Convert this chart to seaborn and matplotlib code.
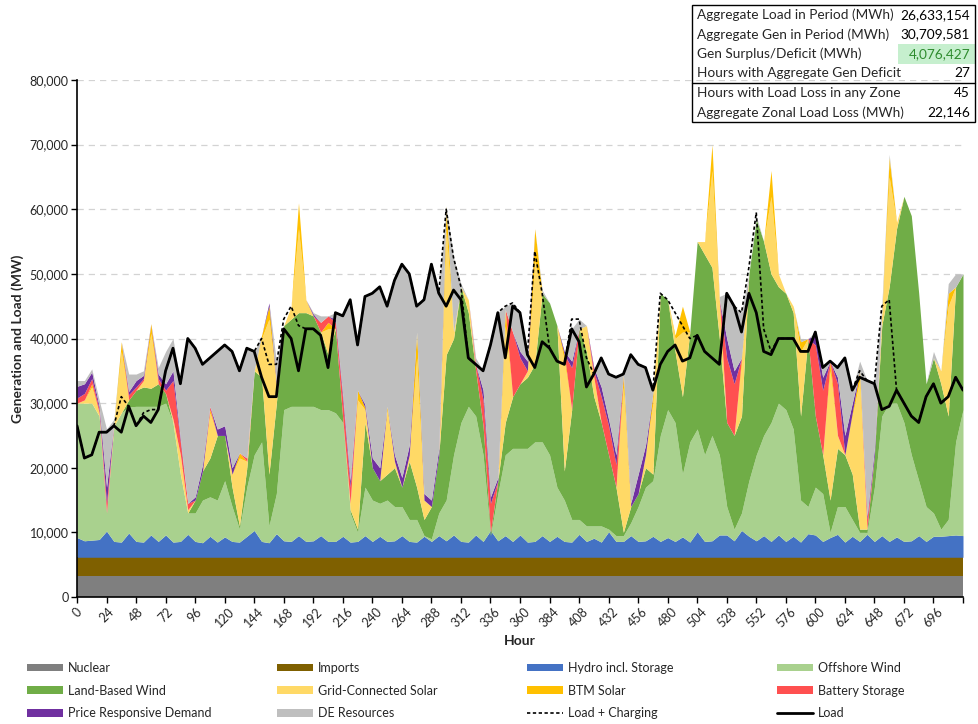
import numpy as np
import pandas as pd
import matplotlib
matplotlib.use("Agg")
import matplotlib.pyplot as plt
import seaborn as sns
from matplotlib.patches import Patch, Rectangle
from matplotlib.lines import Line2D
from matplotlib.ticker import FuncFormatter, MultipleLocator

# hourly samples every 6 h, values in thousands of MW
hours = np.arange(0, 721, 6)

NUCLEAR_K = 3.3
IMPORTS_TOP_K = 6.15

hydro_top = [9.2, 8.7, 8.8, 8.9, 10.2, 8.6, 8.5, 9.9, 8.6, 8.5, 9.6, 8.6,
             9.6, 8.5, 8.6, 9.7, 8.6, 8.4, 9.4, 8.5, 9.3, 8.6, 8.5, 9.4,
             10.3, 8.6, 8.4, 9.8, 8.7, 8.6, 9.5, 8.6, 8.7, 9.5, 8.6, 8.6,
             9.4, 8.5, 8.6, 9.5, 8.6, 9.4, 8.6, 8.7, 9.5, 8.6, 8.5, 9.4,
             8.6, 9.5, 8.7, 9.6, 8.6, 8.5, 9.6, 8.6, 10.3, 8.7, 9.5, 8.6,
             9.6, 8.5, 8.6, 9.5, 8.6, 9.4, 8.6, 8.5, 9.7, 8.6, 9.1, 8.5,
             10.1, 8.6, 8.6, 9.5, 8.6, 8.7, 9.4, 8.6, 9.2, 8.6, 9.3, 8.5,
             10.1, 8.6, 8.7, 9.6, 9.6, 8.7, 10.3, 9.4, 8.7, 9.5, 8.6, 9.6,
             8.6, 9.4, 8.5, 9.8, 9.6, 8.6, 9.2, 9.7, 8.5, 9.4, 8.6, 9.7,
             8.6, 9.5, 8.6, 9.3, 8.6, 8.7, 9.5, 8.6, 9.4, 9.4, 9.5, 9.6, 9.5]

offshore_top = [30, 30, 30, 28, 13, 26.5, 28.5, 29.4, 29.5, 29.5, 29.5, 29.5,
                30, 27, 19, 13, 13, 15, 15.5, 15, 18, 14, 10.5, 17,
                22, 24, 11, 16, 29, 29.5, 29.5, 29.5, 29.5, 29, 29, 28.5,
                27, 13, 10, 17, 15, 14.5, 15, 14, 14, 12, 12, 9.5,
                9, 13, 15, 22, 27, 29.5, 28, 22, 9.5, 16, 22, 23,
                23, 23, 24, 24, 22, 17, 15, 12, 12, 11, 11, 11,
                10.5, 9.5, 9.5, 11.5, 14, 17, 18, 25, 29, 27, 19, 24,
                26, 22, 25, 22, 14, 10.5, 13, 18, 22, 25, 27, 30,
                29, 26, 15, 14, 17, 16, 10, 14, 14, 12, 10, 10,
                17, 28, 30, 30, 27, 22, 18, 14, 13, 10.5, 12, 24, 29]

land_top = [30, 30, 30, 28, 13, 26.5, 28.5, 30.5, 32, 32.5, 32.3, 33,
            31.5, 27, 19, 13, 15, 19.5, 21.5, 25, 25, 17, 11, 20,
            35, 34, 19, 30, 42, 43, 44, 44, 43.5, 41, 37.5, 41.5,
            27.5, 13.5, 10.5, 27, 20, 18, 19, 20, 17, 21, 17, 12,
            14, 22, 37.5, 40, 48, 44, 35, 26.5, 10, 18, 27, 31,
            33, 34, 36, 47, 45.5, 42, 19.5, 29, 41.5, 38, 31, 27,
            22, 17, 10, 14, 16, 20, 19, 47, 46, 38, 31, 41,
            55, 53, 51, 40, 27, 25, 28, 50, 58.5, 55, 50, 48,
            47, 44, 28, 40, 28, 22, 15, 23, 22, 19, 10.5, 10.5,
            22, 42, 48, 57, 62, 59, 47, 33, 37, 33, 28, 48, 50]

grid_solar = [0, 0.5, 2.5, 0.5, 0, 0.5, 9.5, 0, 0, 1, 8.5, 0,
              0, 0.5, 3, 0.5, 0, 0, 7, 0, 0, 2, 10.5, 1,
              0, 6, 24, 3, 0, 2, 13, 2, 0, 0, 4, 0,
              0, 1, 20, 2, 0, 0, 10, 1, 0, 1, 20, 3,
              0, 0, 19.5, 1, 0, 2, 0, 0, 0, 0, 15, 0,
              0, 1, 16, 0, 0, 0, 17, 0, 0, 4, 3, 0,
              0, 0, 22.5, 0, 0, 2, 11, 0, 0, 2, 10, 0,
              0, 2, 15, 6, 0, 0, 8, 0, 0, 0, 12, 2,
              0, 1, 10, 0, 0, 0, 20, 2, 0, 9, 23, 0,
              0, 2, 17, 1, 0, 0, 0, 0, 0, 2, 17, 0, 0]

btm_solar = [0, 0, 0.5, 0, 0, 0, 1.5, 0, 0, 0, 1.5, 0,
             0, 0, 0, 0, 0, 0, 0.5, 0, 0, 0, 0.8, 0,
             0, 0.5, 2, 0, 0, 0, 4, 0, 0, 0, 1, 0,
             0, 0, 1.5, 0.3, 0, 0, 0.5, 0, 0, 0, 4, 0,
             0, 0, 3.5, 0, 0, 0, 0, 0, 0, 0, 2.5, 0,
             0, 0, 5, 0, 0, 0, 1, 0, 0, 0, 0, 0,
             0, 0, 2, 0, 0, 0, 1.5, 0, 0, 0.5, 4, 0,
             0, 0, 4, 0, 0, 0, 1, 0, 0, 0, 4, 0,
             0, 0, 1.5, 0, 0, 0, 1.5, 0, 0, 0.5, 1.5, 0,
             0, 0, 3, 0, 0, 0, 0, 0, 0, 0, 2, 0, 0]

battery = [0.8, 1, 0.8, 0.5, 1.5, 0, 0, 0.8, 0.5, 0.3, 0, 0.8,
           0.5, 6, 2, 1, 0, 0, 0.5, 0, 0, 0, 0, 0.5,
           0, 0, 0, 0, 0, 0, 0, 0, 0, 1.5, 1, 1,
           3, 2.5, 0, 0, 0, 0, 0, 0, 0, 0, 0, 0,
           0, 0, 0, 0, 0, 0, 1, 4, 4.5, 0, 0, 10,
           4, 0, 0, 0, 0, 0, 0, 6.5, 0, 0, 1, 4,
           4.5, 3.5, 0, 0, 0, 0, 0, 0, 0, 0, 0, 0,
           0, 0, 0, 0, 10, 8, 0, 0, 0, 0, 0, 0,
           0, 0, 0, 0, 11, 10, 0, 8, 0, 0, 0, 1.5,
           0, 0, 0, 0, 0, 0, 0, 0, 0, 0, 0, 0, 0]

price_resp = [1.8, 1.5, 1, 0.5, 2.5, 0, 0, 0.5, 1, 0.5, 0, 0.7,
              1, 1.5, 0.5, 0, 0.5, 1, 0, 1, 1.5, 1, 0, 0,
              0, 0, 0.5, 0.5, 0, 0, 0, 0, 0.3, 0, 0, 0.5,
              0.7, 1, 0, 0.5, 1.5, 2, 0, 1, 1.5, 1.5, 0, 1,
              1, 1, 0, 0, 0, 0, 0, 1.5, 1, 0.5, 0, 0,
              1, 1.5, 0, 0, 0, 0, 0.5, 1, 0, 0, 0.5, 1.5,
              1, 1.5, 0, 0.5, 3, 1.5, 0, 0, 0, 0, 0, 0,
              0, 0, 0, 0, 3, 2, 0, 0, 0, 0, 0, 0,
              0, 0, 0, 0, 1.5, 2, 0, 1, 3, 1.5, 0, 0.5,
              1, 0, 0, 0, 0, 0, 0, 0, 0, 0, 0, 0, 0]

# top edge of the whole stack (DE resources fill the rest)
de_top = [33.5, 33.5, 35.3, 30.5, 26, 27.5, 39.5, 34.5, 34.5, 35, 42.3, 35.5,
          38, 40, 33, 40, 38.5, 36, 37, 38, 39, 38, 35, 38.5,
          38, 40.5, 45.5, 36.5, 42, 45, 61, 46, 44, 43.5, 43.5, 44,
          43.5, 46, 39, 46.5, 47, 48, 45, 49, 51.5, 50, 45, 46,
          51.5, 47, 60.5, 52.5, 48.5, 46, 37, 35, 39, 44, 45, 45.5,
          44, 37.5, 57, 47.5, 45.5, 42, 38, 41.5, 43, 42, 34.5, 37,
          34.5, 34, 34.5, 37.5, 36, 35.5, 32, 47, 46, 40.5, 45, 41,
          55, 55, 70, 46.5, 47, 45, 44, 50, 59, 55, 66, 50,
          47, 45, 40, 40, 41, 35.5, 36.5, 35.5, 37, 32, 36.5, 33.5,
          33, 45, 68.5, 58, 62, 59, 47, 33, 38, 35, 48.5, 50, 50]

load = [26.5, 21.5, 22, 25.5, 25.5, 26.5, 25.5, 29.5, 26.5, 28, 27, 29,
        35, 38.5, 33, 40, 38.5, 36, 37, 38, 39, 38, 35, 38.5,
        38, 34, 31, 31, 41.5, 40, 35, 41.5, 41.5, 40.5, 35.5, 44,
        43.5, 46, 39, 46.5, 47, 48, 45, 49, 51.5, 50, 45, 46,
        51.5, 47, 45, 47.5, 46, 37, 36, 35, 39, 44, 37, 45,
        44, 37.5, 35.5, 39.5, 38.5, 36.5, 36, 41.5, 39.5, 32.5, 34.5, 37,
        34.5, 34, 34.5, 37.5, 36, 35.5, 32, 36, 38, 39, 36.5, 37,
        40.5, 38, 37, 36, 47, 45, 41, 47, 44, 38, 37.5, 40,
        40, 40, 38, 38, 41, 35.5, 36.5, 35.5, 37, 32, 34, 33.5,
        33, 29, 29.5, 32, 30, 28, 27, 31, 33, 30, 31, 34, 32]

load_charging = [26.5, 21.5, 22, 25.5, 25.5, 26.5, 31, 29.5, 26.5, 28.5, 29, 29,
                 35, 38.5, 33, 40, 38.5, 36, 37, 38, 39, 38, 35, 38.5,
                 38, 40, 36, 36, 43, 45, 42, 41.5, 41.5, 40.5, 35.5, 44,
                 43.5, 46, 39, 46.5, 47, 48, 45, 49, 51.5, 50, 45, 46,
                 51.5, 47, 60, 52.5, 48, 37, 36, 35, 39, 44, 45, 45.5,
                 44, 37.5, 53.5, 47, 38.5, 36.5, 36, 43, 43, 37, 34.5, 37,
                 34.5, 34, 34.5, 37.5, 36, 35.5, 32, 47, 46, 44, 42, 40,
                 40.5, 38, 37, 36, 47, 45, 44, 51, 59.5, 41.5, 38, 40,
                 40, 40, 38, 38, 41, 35.5, 36.5, 35.5, 37, 32, 35, 33.5,
                 33, 45, 46, 32, 30, 28, 27, 31, 33, 30, 31, 34, 32]

series_names = ["Nuclear", "Imports", "Hydro incl. Storage", "Offshore Wind",
                "Land-Based Wind", "Grid-Connected Solar", "BTM Solar",
                "Battery Storage", "Price Responsive Demand", "DE Resources"]
series_colors = ["#7F7F7F", "#7F6000", "#4472C4", "#A9D18E", "#70AD47",
                 "#FFD966", "#FFC000", "#FF5050", "#7030A0", "#BFBFBF"]

table_rows = [("Aggregate Load in Period (MWh)", "26,633,154"),
              ("Aggregate Gen in Period (MWh)", "30,709,581"),
              ("Gen Surplus/Deficit (MWh)", "4,076,427"),
              ("Hours with Aggregate Gen Deficit", "27"),
              ("Hours with Load Loss in any Zone", "45"),
              ("Aggregate Zonal Load Loss (MWh)", "22,146")]

# ---- layers in MW ----
n = len(hours)
nuclear = np.full(n, NUCLEAR_K)
imports = np.full(n, IMPORTS_TOP_K - NUCLEAR_K)
hydro = np.array(hydro_top) - IMPORTS_TOP_K
offshore = np.array(offshore_top) - np.array(hydro_top)
land = np.clip(np.array(land_top) - np.array(offshore_top), 0, None)
below_de = (np.array(land_top) + np.array(grid_solar) + np.array(btm_solar)
            + np.array(battery) + np.array(price_resp))
de = np.clip(np.array(de_top) - below_de, 0, None)
layers = [nuclear, imports, hydro, offshore, land, np.array(grid_solar),
          np.array(btm_solar), np.array(battery), np.array(price_resp), de]
layers = [np.asarray(l, dtype=float) * 1000 for l in layers]

lines = pd.DataFrame({"Hour": hours,
                      "Load": np.array(load) * 1000,
                      "Load + Charging": np.array(load_charging) * 1000})

sns.set_theme(style="white")
plt.rcParams["font.family"] = ["Lato", "DejaVu Sans"]

W, H = 979, 724
fig = plt.figure(figsize=(W / 100, H / 100), dpi=100)
ax = fig.add_axes([77 / W, 1 - 597 / H, (963 - 77) / W, (597 - 80) / H])

ax.stackplot(hours, layers, colors=series_colors, linewidth=0, zorder=2)
sns.lineplot(data=lines, x="Hour", y="Load + Charging", ax=ax, color="black",
             linewidth=1.2, linestyle=(0, (2, 1.5)), zorder=3, legend=False)
sns.lineplot(data=lines, x="Hour", y="Load", ax=ax, color="black",
             linewidth=2.0, zorder=4, legend=False)

ax.set_xlim(0, 720)
ax.set_ylim(0, 80000)
ax.yaxis.set_major_locator(MultipleLocator(10000))
ax.yaxis.set_major_formatter(FuncFormatter(lambda v, p: f"{int(v):,}"))
ax.set_xticks(np.arange(0, 721, 24))
ax.set_xticklabels([str(h) if h < 720 else "" for h in range(0, 721, 24)],
                   rotation=45, ha="center", va="top")
ax.tick_params(axis="both", labelsize=9, length=4, width=1, color="black",
               direction="out", bottom=True, left=True, pad=2)
ax.yaxis.grid(True, linestyle=(0, (5, 4)), color="#D3D3D3", linewidth=0.9)
ax.set_axisbelow(True)
for side in ["top", "right"]:
    ax.spines[side].set_visible(False)
for side in ["left", "bottom"]:
    ax.spines[side].set_color("black")
    ax.spines[side].set_linewidth(1.2)

ax.set_ylabel("Generation and Load (MW)", fontsize=10, fontweight="bold", labelpad=4)
ax.set_xlabel("Hour", fontsize=10, fontweight="bold", labelpad=4)

# legend: four fixed-width columns, filled row by row
handles = [Patch(facecolor=c, edgecolor="none") for c in series_colors]
handles += [Line2D([], [], color="black", lw=1.2, ls=(0, (2, 1.5))),
            Line2D([], [], color="black", lw=2.0)]
labels = series_names + ["Load + Charging", "Load"]
for col, x_px in enumerate([27, 277, 527, 777]):
    idx = [col, col + 4, col + 8]
    fig.legend([handles[i] for i in idx], [labels[i] for i in idx],
               loc="upper left", bbox_to_anchor=(x_px / W, 1 - 662 / H),
               ncol=1, frameon=False, fontsize=9, borderpad=0,
               handlelength=2.9, handleheight=0.55, labelspacing=0.85,
               handletextpad=0.4, borderaxespad=0)

# summary table in the top-right corner
x0, x1, y0, y1 = 692, 975, 5, 122
row_h = (y1 - y0) / len(table_rows)
fig.add_artist(Rectangle((898 / W, 1 - (y0 + 3 * row_h) / H), (x1 - 898) / W,
                         row_h / H, transform=fig.transFigure,
                         facecolor="#C6EFCE", edgecolor="none", zorder=5))
fig.add_artist(Rectangle((x0 / W, 1 - y1 / H), (x1 - x0) / W, (y1 - y0) / H,
                         transform=fig.transFigure, facecolor="none",
                         edgecolor="black", linewidth=1.0, zorder=6))
fig.add_artist(Line2D([x0 / W, x1 / W], [1 - (y0 + 4 * row_h) / H] * 2,
                      transform=fig.transFigure, color="black", lw=1.0, zorder=6))
for i, (name, val) in enumerate(table_rows):
    yc = 1 - (y0 + (i + 0.5) * row_h) / H
    fig.text(697 / W, yc, name, ha="left", va="center", fontsize=9.8, zorder=7)
    fig.text(970 / W, yc, val, ha="right", va="center", fontsize=9.8, zorder=7,
             color="#2E8B2E" if i == 2 else "black")

fig.savefig("out.png", dpi=100)
